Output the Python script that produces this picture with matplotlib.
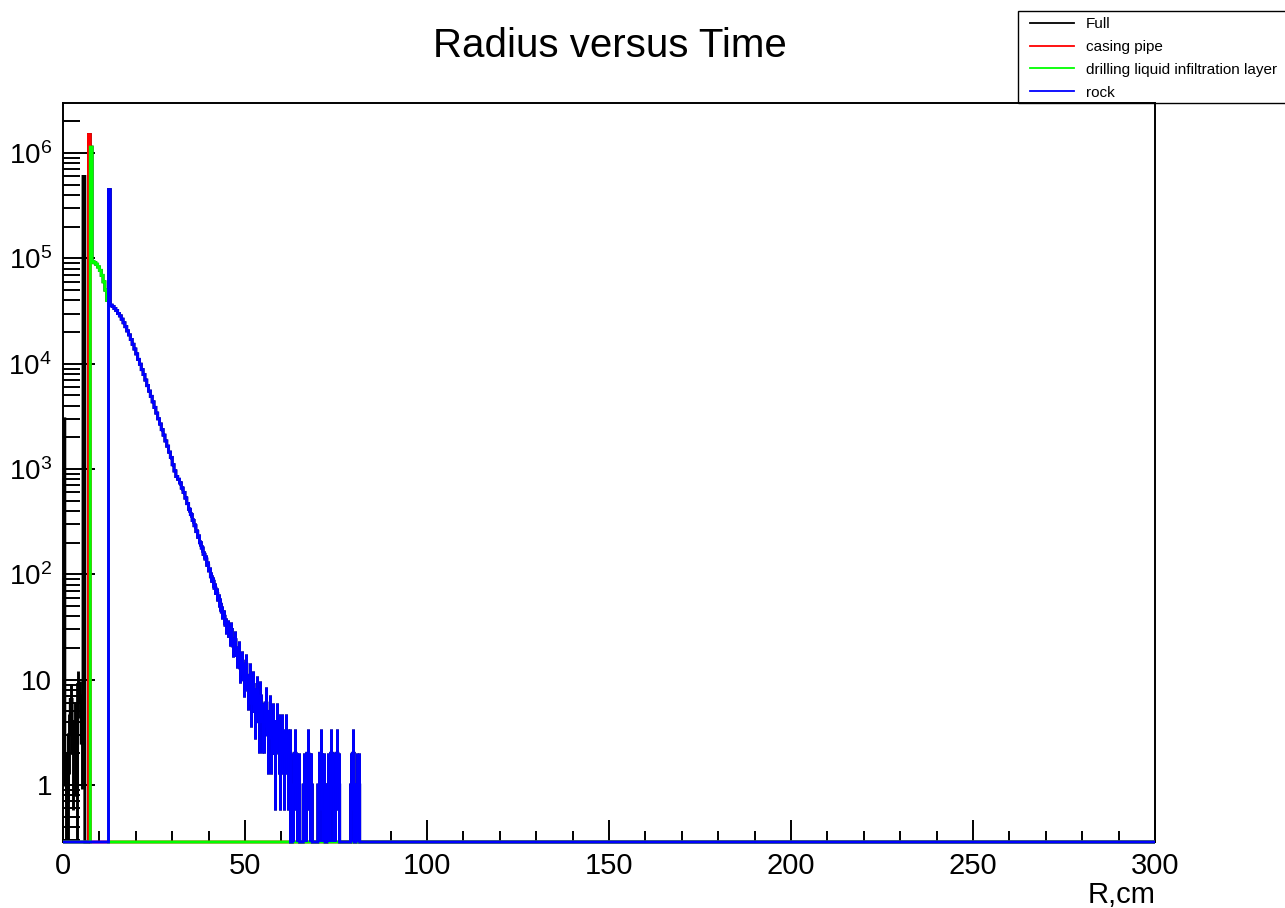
import numpy as np
import matplotlib
matplotlib.use("Agg")
import matplotlib.pyplot as plt
from matplotlib.lines import Line2D
from matplotlib.patches import Rectangle
from matplotlib.ticker import FixedLocator, FixedFormatter, MultipleLocator, LogLocator, NullFormatter

plt.rcParams['font.family'] = ['Liberation Sans', 'DejaVu Sans']
plt.rcParams['mathtext.fontset'] = 'custom'
plt.rcParams['mathtext.rm'] = 'Liberation Sans'
plt.rcParams['mathtext.it'] = 'Liberation Sans'

# histogram binning (cm)
bin_width = 0.5
r_min, r_max = 0.0, 300.0

# counts per 0.5 cm bin; each list starts at the given R
other_start = 0.0
other_counts = [3000, 1.0, 0.7, 3.0, 6.5, 2.0, 4.0, 0.8, 9.0, 7.0, 2.5, 600000]

casing_start = 7.0
casing_counts = [1500000]

liquid_start = 7.5
liquid_counts = [1140000, 93000, 91000, 88000, 83000, 77000, 69000, 60000, 50000, 40000]

rock_start = 12.5
rock_counts = [
    450000, 36000, 35000, 33500, 32000, 30000, 28500, 26500, 24500, 22500,  # 12.5-17.0
    20500, 18800, 17000, 15300, 13800, 12400, 11000, 9900, 8800, 7900,      # 17.5-22.0
    7000, 6200, 5500, 4900, 4350, 3850, 3400, 3000, 2680, 2370,             # 22.5-27.0
    2100, 1850, 1650, 1450, 1290, 1100, 960, 850, 800, 740,                 # 27.5-32.0
    660, 600, 530, 470, 415, 370, 325, 290, 255, 225,                       # 32.5-37.0
    200, 178, 155, 140, 122, 108, 95, 86, 74, 66,                           # 37.5-42.0
    57, 52, 44, 40, 33, 31, 26, 30, 21, 24,                                 # 42.5-47.0
    17, 19, 13, 15, 10, 14, 8, 11, 6, 9,                                    # 47.5-52.0
    5, 8, 4, 7, 4, 4, 6, 3, 5, 3,                                           # 52.5-57.0
    4, 2, 4, 3, 2, 3, 2, 3, 2, 2,                                           # 57.5-62.0
    0, 1, 2, 1, 1, 0, 0, 1, 1, 2,                                           # 62.5-67.0
    1, 1, 0, 0, 0, 1, 2, 1, 1, 0,                                           # 67.5-72.0
    1, 1, 2, 1, 1, 2, 1, 0, 0, 0,                                           # 72.5-77.0
    0, 0, 0, 1, 2, 0, 1, 1, 0,                                              # 77.5-81.5
]

series_labels = ["Full", "casing pipe", "drilling liquid infiltration layer", "rock"]
series_colors = ["#000000", "#ff0000", "#00ff00", "#0000ff"]

y_tick_values = [1, 10, 1e2, 1e3, 1e4, 1e5, 1e6]
y_tick_labels = ["1", "10", r"$\mathregular{10^{2}}$", r"$\mathregular{10^{3}}$",
                 r"$\mathregular{10^{4}}$", r"$\mathregular{10^{5}}$", r"$\mathregular{10^{6}}$"]

y_low, y_high = 0.288, 2.99e6

edges = np.arange(r_min, r_max + bin_width / 2, bin_width)
nbins = len(edges) - 1
centers = 0.5 * (edges[:-1] + edges[1:])


def to_grid(start, counts):
    arr = np.zeros(nbins)
    i0 = int(round((start - r_min) / bin_width))
    arr[i0:i0 + len(counts)] = counts
    return arr


other = to_grid(other_start, other_counts)
casing = to_grid(casing_start, casing_counts)
liquid = to_grid(liquid_start, liquid_counts)
rock = to_grid(rock_start, rock_counts)
full = other + casing + liquid + rock


def draw_hist(ax, vals, color, lw):
    # empty bins are drawn along the bottom frame, like ROOT does
    shown = np.where(vals > 0, vals, y_low)
    ax.stairs(shown, edges, color=color, linewidth=lw, baseline=None,
              clip_on=False, zorder=3)
    nz = vals > 0
    err = np.sqrt(vals[nz])
    lo = np.maximum(vals[nz] - err, y_low * 0.5)
    hi = vals[nz] + err
    ax.vlines(centers[nz], lo, hi, color=color, linewidth=lw, zorder=3)


fig = plt.figure(figsize=(12.85, 9.08), dpi=100)
ax = fig.add_axes([63 / 1285, 1 - 842 / 908, (1155 - 63) / 1285, (842 - 103) / 908])

for vals, col in zip([full, casing, liquid, rock], series_colors):
    draw_hist(ax, vals, col, 2.1)

ax.set_yscale('log')
ax.set_xlim(r_min, r_max)
ax.set_ylim(y_low, y_high)

ax.xaxis.set_major_locator(MultipleLocator(50))
ax.xaxis.set_minor_locator(MultipleLocator(10))
ax.yaxis.set_major_locator(FixedLocator(y_tick_values))
ax.yaxis.set_major_formatter(FixedFormatter(y_tick_labels))
ax.yaxis.set_minor_locator(LogLocator(base=10, subs=np.arange(2, 10), numticks=20))
ax.yaxis.set_minor_formatter(NullFormatter())

ax.tick_params(axis='x', which='major', direction='in', length=16, width=1.4,
               labelsize=21, pad=7, top=False)
ax.tick_params(axis='x', which='minor', direction='in', length=8, width=1.4, top=False)
ax.tick_params(axis='y', which='major', direction='in', length=23, width=1.4,
               labelsize=20, pad=8, right=False)
ax.tick_params(axis='y', which='minor', direction='in', length=12, width=1.4, right=False)
for s in ax.spines.values():
    s.set_linewidth(1.4)
    s.set_zorder(2)

ax.set_xlabel("R,cm", loc='right', fontsize=21, labelpad=1)

fig.text(610 / 1285, 1 - 57 / 908, "Radius versus Time", fontsize=29,
         ha='center', va='baseline')

# legend box (runs off the right edge as in the original)
fig.add_artist(Rectangle((1018 / 1285, 1 - 103 / 908), 300 / 1285, 92 / 908,
                         transform=fig.transFigure, fill=False,
                         edgecolor='black', linewidth=1.0))
handles = [Line2D([], [], color=c, linewidth=1.3) for c in series_colors]
fig.legend(handles, series_labels, loc='upper left',
           bbox_to_anchor=(1030 / 1285, 1 - 17 / 908), bbox_transform=fig.transFigure,
           frameon=False, fontsize=11, handlelength=2.9, handletextpad=0.78,
           borderpad=0, labelspacing=0.58, borderaxespad=0)

fig.savefig("out.png", dpi=100)
